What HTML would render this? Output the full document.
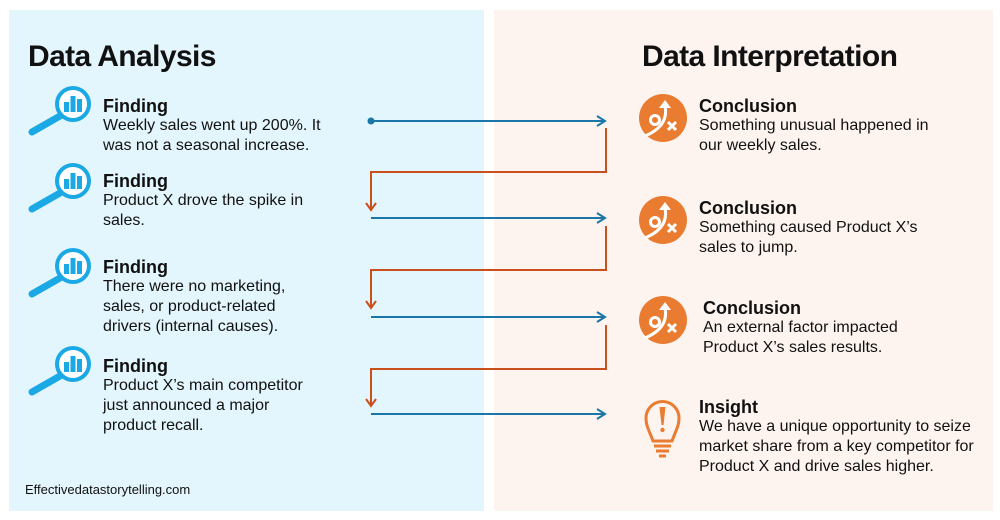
<!DOCTYPE html>
<html><head><meta charset="utf-8"><style>
body{margin:0;width:1000px;height:520px;background:#fff;position:relative;overflow:hidden;font-family:"Liberation Sans",Arial,sans-serif;color:#111}
.p{position:absolute}
h1{position:absolute;margin:0;font-size:30px;font-weight:bold;letter-spacing:-0.6px;line-height:34px}
.b{position:absolute;font-size:16px;line-height:20px}
.b b{display:block;font-size:18px;line-height:20px;margin-bottom:0}
.ft{position:absolute;left:25px;top:482px;font-size:13px}
</style></head><body>
<div class="p" style="left:9px;top:10px;width:475px;height:501px;background:#e3f5fd"></div>
<div class="p" style="left:494px;top:10px;width:499px;height:501px;background:#fdf4f0"></div>
<h1 style="left:28px;top:40px">Data Analysis</h1>
<h1 style="left:642px;top:40px">Data Interpretation</h1>

<svg class="p" style="left:0;top:0" width="1000" height="520">
<defs>
<g id="mag"><circle cx="0" cy="0" r="16" fill="#fff" stroke="#1ba9e6" stroke-width="4"/>
<rect x="-9" y="-2" width="5" height="10" fill="#1ba9e6"/><rect x="-2.5" y="-8" width="5" height="16" fill="#1ba9e6"/><rect x="4" y="-5" width="5" height="13" fill="#1ba9e6"/>
<line x1="-13" y1="12" x2="-41" y2="28" stroke="#1ba9e6" stroke-width="7" stroke-linecap="round"/></g>
<g id="con"><circle r="24" fill="#e97c30"/>
<circle cx="-8" cy="2" r="4.5" fill="none" stroke="#fff" stroke-width="3"/>
<path d="M-18 18 Q6 8 2 -12" fill="none" stroke="#fff" stroke-width="3"/>
<path d="M-4 -10 L2 -18 L8 -10 Z" fill="#fff"/>
<path d="M5 4 L13 12 M13 4 L5 12" stroke="#fff" stroke-width="3"/></g>
</defs>
<use href="#mag" x="73" y="104"/>
<use href="#mag" x="73" y="181"/>
<use href="#mag" x="73" y="266"/>
<use href="#mag" x="73" y="364"/>
<use href="#con" x="663" y="118"/>
<use href="#con" x="663" y="220"/>
<use href="#con" x="663" y="320"/>
<g fill="none" stroke="#e97c30" stroke-width="3">
<path d="M653 441 C649 430 646 426 646 418 A16.5 16.5 0 1 1 679 418 C679 426 676 430 672 441 Z"/>
<line x1="654" y1="446" x2="671" y2="446"/><line x1="656" y1="451" x2="669" y2="451"/><line x1="659" y1="456" x2="666" y2="456"/>
</g>
<path d="M659.5 407 L665.5 407 L663.5 425 L661.5 425 Z" fill="#e97c30"/><circle cx="662.5" cy="430" r="2.2" fill="#e97c30"/>
<g fill="none" stroke="#1a76a8" stroke-width="2">
<line x1="371" y1="121" x2="604" y2="121"/><path d="M597 116 L605 121 L597 126"/>
<line x1="371" y1="218" x2="604" y2="218"/><path d="M597 213 L605 218 L597 223"/>
<line x1="371" y1="317" x2="604" y2="317"/><path d="M597 312 L605 317 L597 322"/>
<line x1="371" y1="414" x2="604" y2="414"/><path d="M597 409 L605 414 L597 419"/>
</g>
<circle cx="371" cy="121" r="3.5" fill="#1a76a8"/>
<g fill="none" stroke="#c9501c" stroke-width="2">
<path d="M606 128 V172 H371 V209"/><path d="M366 203 L371 210 L376 203"/>
<path d="M606 226 V270 H371 V307"/><path d="M366 301 L371 308 L376 301"/>
<path d="M606 325 V369 H371 V405"/><path d="M366 399 L371 406 L376 399"/>
</g>
</svg>

<div class="b" style="left:103px;top:96px"><b>Finding</b>Weekly sales went up 200%. It<br>was not a seasonal increase.</div>
<div class="b" style="left:103px;top:171px"><b>Finding</b>Product X drove the spike in<br>sales.</div>
<div class="b" style="left:103px;top:257px"><b>Finding</b>There were no marketing,<br>sales, or product-related<br>drivers (internal causes).</div>
<div class="b" style="left:103px;top:356px"><b>Finding</b>Product X’s main competitor<br>just announced a major<br>product recall.</div>

<div class="b" style="left:699px;top:96px"><b>Conclusion</b>Something unusual happened in<br>our weekly sales.</div>
<div class="b" style="left:699px;top:198px"><b>Conclusion</b>Something caused Product X’s<br>sales to jump.</div>
<div class="b" style="left:703px;top:298px"><b>Conclusion</b>An external factor impacted<br>Product X’s sales results.</div>
<div class="b" style="left:699px;top:397px"><b>Insight</b>We have a unique opportunity to seize<br>market share from a key competitor for<br>Product X and drive sales higher.</div>

<div class="ft">Effectivedatastorytelling.com</div>
</body></html>
